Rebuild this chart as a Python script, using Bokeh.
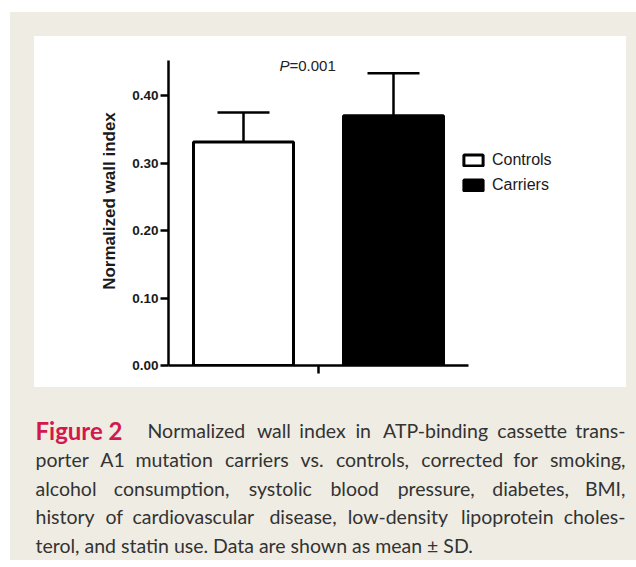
from bokeh.plotting import figure
from bokeh.models import Range1d, FixedTicker, ColumnDataSource
from bokeh.layouts import column, row
from bokeh.core.properties import value
from bokeh.embed import file_html
from bokeh.resources import INLINE

# ---------------- data ----------------
categories = ["Controls", "Carriers"]
means = [0.331, 0.370]
sds = [0.044, 0.063]
fills = ["white", "black"]
y_ticks = [0.0, 0.1, 0.2, 0.3, 0.4]
y_tick_labels = ["0.00", "0.10", "0.20", "0.30", "0.40"]
y_axis_title = "Normalized wall index"
p_text = "=0.001"

caption_label = "Figure 2"
caption_lines = [
    "Normalized wall index in ATP-binding cassette trans-",
    "porter A1 mutation carriers vs. controls, corrected for smoking,",
    "alcohol consumption, systolic blood pressure, diabetes, BMI,",
    "history of cardiovascular disease, low-density lipoprotein choles-",
    "terol, and statin use. Data are shown as mean \u00b1 SD.",
]

BEIGE = "#efece3"
RED = "#d2194b"
TEXT = "#333333"

# group layout (1 x-unit = 100 px)
group_center = 1.5
offsets = [-0.75, 0.75]
bar_width = 1.0
xs = [group_center + o for o in offsets]
tops = [m + s for m, s in zip(means, sds)]
cap_half = 0.26

# chart pixel -> data helpers (frame left at page x 168, zero at page y 365)
def dx(X):
    return (X - 168) / 100.0

def dy(Y):
    return (365 - Y) / 675.0

src = ColumnDataSource(dict(x=xs, top=means, fill=fills, cat=categories))

p1 = figure(width=592, height=351, x_range=Range1d(0, 4.58),
            y_range=Range1d(0, 329 / 675), output_backend="svg",
            toolbar_location=None, min_border_left=134, min_border_right=0,
            min_border_top=0, min_border_bottom=22,
            border_fill_color="white", background_fill_color="white",
            outline_line_color=None)
p1.grid.visible = False

p1.vbar(x="x", top="top", bottom=0, width=bar_width, fill_color="fill",
        line_color="black", line_width=3, source=src, legend_field="cat")
p1.segment(x0=xs, y0=means, x1=xs, y1=tops, line_color="black", line_width=2.5)
p1.segment(x0=[x - cap_half for x in xs], y0=tops, x1=[x + cap_half for x in xs],
           y1=tops, line_color="black", line_width=2.5)

# P value annotation
p1.text(x=[dx(279)], y=[dy(65)], text=["P"], text_font=value("Liberation Sans"),
        text_font_size=value("15px"), text_font_style="italic",
        text_color="#222222", text_baseline="alphabetic")
p1.text(x=[dx(289)], y=[dy(65)], text=[p_text], text_font=value("Liberation Sans"),
        text_font_size=value("15px"), text_color="#222222",
        text_baseline="alphabetic")

# axes
xa = p1.xaxis[0]
xa.ticker = FixedTicker(ticks=[group_center])
xa.major_label_overrides = {group_center: ""}
xa.bounds = (0, 3.0)
xa.axis_line_width = 2.5
xa.major_tick_line_width = 2.5
xa.major_tick_out = 8
xa.major_tick_in = 0
xa.minor_tick_line_color = None

ya = p1.yaxis[0]
ya.ticker = FixedTicker(ticks=y_ticks)
ya.major_label_overrides = {t: l for t, l in zip(y_ticks, y_tick_labels)}
ya.bounds = (0, 0.452)
ya.axis_line_width = 2.5
ya.major_tick_line_width = 2.5
ya.major_tick_out = 8
ya.major_tick_in = 0
ya.minor_tick_line_color = None
ya.major_label_standoff = 2
ya.major_label_text_font = "Liberation Sans"
ya.major_label_text_font_style = "bold"
ya.major_label_text_font_size = "13.5px"
ya.major_label_text_color = "#1a1a1a"
ya.axis_label = y_axis_title
ya.axis_label_text_font = "Liberation Sans"
ya.axis_label_text_font_style = "bold"
ya.axis_label_text_font_size = "17px"
ya.axis_label_text_color = "#1a1a1a"
ya.axis_label_standoff = 10

lg = p1.legend[0]
lg.location = (293, 171)
lg.padding = 0
lg.margin = 0
lg.spacing = 7
lg.glyph_width = 24
lg.glyph_height = 14
lg.label_height = 14
lg.label_standoff = 7
lg.label_text_font = "Liberation Sans"
lg.label_text_font_size = "16px"
lg.label_text_color = "#1a1a1a"
lg.border_line_color = None
lg.background_fill_alpha = 0

# ---------------- caption ----------------
p2 = figure(width=626, height=173, x_range=Range1d(10, 636),
            y_range=Range1d(560, 387), output_backend="svg",
            toolbar_location=None, min_border=0,
            min_border_left=0, min_border_right=0,
            min_border_top=0, min_border_bottom=0,
            x_axis_location=None, y_axis_location=None,
            border_fill_color=BEIGE, background_fill_color=BEIGE,
            outline_line_color=None)
p2.grid.visible = False

BODY_PX = 19.5
# approximate Lato advance widths (em) used to justify the caption lines
LATO = {
    "a": .49, "b": .56, "c": .46, "d": .56, "e": .52, "f": .32, "g": .50,
    "h": .56, "i": .24, "j": .24, "k": .50, "l": .24, "m": .84, "n": .56,
    "o": .56, "p": .56, "q": .56, "r": .37, "s": .42, "t": .35, "u": .56,
    "v": .50, "w": .76, "x": .49, "y": .50, "z": .46,
    "A": .68, "B": .63, "C": .67, "D": .75, "I": .28, "M": .90, "N": .75,
    "P": .60, "S": .53, "T": .58, "1": .58, "-": .33, ",": .23, ".": .23,
    "\u00b1": .58,
}

def tw(s):
    return sum(LATO.get(c, .5) for c in s) * BODY_PX * 1.04

baselines = [430, 458.75, 487.5, 516.25, 545]
line_left = [147, 35, 35, 35, 35]
RIGHT = 625

lx, ly, lt = [], [], []
rx, ry, rt = [], [], []
for k, (txt, b, L) in enumerate(zip(caption_lines, baselines, line_left)):
    if k == len(caption_lines) - 1:
        lx.append(L); ly.append(b); lt.append(txt)
        continue
    words = txt.split(" ")
    widths = [tw(w) for w in words]
    n = len(words)
    gap = (RIGHT - L - sum(widths)) / (n - 1)
    half = n // 2
    x = L
    for i in range(half):
        lx.append(x); ly.append(b); lt.append(words[i])
        x += widths[i] + gap
    xr = RIGHT
    for i in range(n - 1, half - 1, -1):
        rx.append(xr); ry.append(b); rt.append(words[i])
        xr -= widths[i] + gap

p2.text(x=lx, y=ly, text=lt, text_font=value("Lato"),
        text_font_size=value(f"{BODY_PX}px"), text_color=TEXT,
        text_baseline="alphabetic", text_align="left")
p2.text(x=rx, y=ry, text=rt, text_font=value("Lato"),
        text_font_size=value(f"{BODY_PX}px"), text_color=TEXT,
        text_baseline="alphabetic", text_align="right")

p2.text(x=[35], y=[430], text=[caption_label], text_font=value("Lato"),
        text_font_size=value("24px"), text_font_style="bold", text_color=RED,
        text_baseline="alphabetic", text_align="left")

# ---------------- layout ----------------
panel = column(p1, styles={"background-color": "white"}, margin=(24, 10, 0, 24))
capbox = row(p2)
lay = column(panel, capbox, styles={"background-color": BEIGE},
             margin=(12, 0, 0, 10))

open("out.html", "w").write(file_html(lay, INLINE))
